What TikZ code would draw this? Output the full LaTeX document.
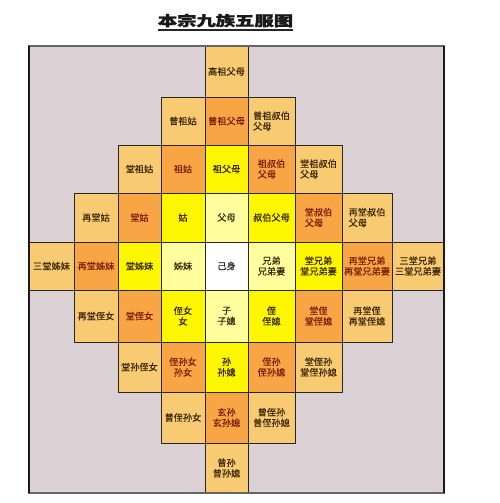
\documentclass[tikz,border=0pt]{standalone}
\usepackage{fontspec}
\newfontfamily\cjk[FakeBold=0.4]{Noto Sans CJK SC}
\newfontfamily\cjktitle[BoldFeatures={FakeBold=1.3}]{Noto Sans CJK SC}
\definecolor{bgc}{HTML}{DBD1D5}
\definecolor{loc}{HTML}{F8CA72}
\definecolor{orc}{HTML}{F7A545}
\definecolor{yec}{HTML}{FCF700}
\definecolor{lyc}{HTML}{FFFF9E}
\definecolor{txd}{HTML}{3A2608}
\definecolor{txr}{HTML}{7A1E08}
\def\colarr{{29,74,118,161,205,248,295,342,392,444}}
\def\rowarr{{46,97,145,193,242,290,342,392,443,493}}
\newcommand{\famcell}[6]{%
  \pgfmathsetmacro\xa{\colarr[#3]}\pgfmathsetmacro\xb{\colarr[#3+1]}%
  \pgfmathsetmacro\ya{\rowarr[#2]}\pgfmathsetmacro\yb{\rowarr[#2+1]}%
  \pgfmathsetmacro\cw{\xb-\xa}\pgfmathsetmacro\ch{\yb-\ya}%
  \pgfmathsetmacro\xm{(\xa+\xb)/2}\pgfmathsetmacro\ym{(\ya+\yb)/2}%
  \node[#4, align=#5, minimum width=\cw pt, minimum height=\ch pt] (#1) at (\xm,\ym) {#6};}
\tikzset{
  cellbase/.style={draw=black!85, line width=0.7pt, inner sep=0pt, outer sep=0pt,
    font=\cjk\fontsize{9.2}{10.6}\selectfont, text=txd},
  lo/.style={cellbase, fill=loc},
  or/.style={cellbase, fill=orc, text=txr},
  ye/.style={cellbase, fill=yec},
  ly/.style={cellbase, fill=lyc},
  wh/.style={cellbase, fill=white, text=black!85},
}
\begin{document}
\begin{tikzpicture}[x=1pt,y=-1pt]
\useasboundingbox (0,0) rectangle (500,503);
\fill[white] (0,0) rectangle (500,503);
\node[font=\cjktitle\bfseries\fontsize{14}{14}\selectfont, inner sep=0pt, text=black!90] (title) at (225.5,20.5) {\scalebox{1.38}[1]{本宗九族五服图}};
\draw[line width=1.6pt, black!85] ([yshift=-2.5pt]title.south west) -- ([yshift=-2.5pt]title.south east);
\fill[bgc] (29,46) rectangle (444,493);
% row 0
\famcell{r0c4}{0}{4}{lo}{center}{高祖父母}
% row 1
\famcell{r1c3}{1}{3}{lo}{center}{曾祖姑}
\famcell{r1c4}{1}{4}{or}{center}{曾祖父母}
\famcell{r1c5}{1}{5}{lo}{left}{曾祖叔伯\\父母}
% row 2
\famcell{r2c2}{2}{2}{lo}{center}{堂祖姑}
\famcell{r2c3}{2}{3}{or}{center}{祖姑}
\famcell{r2c4}{2}{4}{ye}{center}{祖父母}
\famcell{r2c5}{2}{5}{or}{left}{祖叔伯\\父母}
\famcell{r2c6}{2}{6}{lo}{left}{堂祖叔伯\\父母}
% row 3
\famcell{r3c1}{3}{1}{lo}{center}{再堂姑}
\famcell{r3c2}{3}{2}{or}{center}{堂姑}
\famcell{r3c3}{3}{3}{ye}{center}{姑}
\famcell{r3c4}{3}{4}{ly}{center}{父母}
\famcell{r3c5}{3}{5}{ye}{center}{叔伯父母}
\famcell{r3c6}{3}{6}{or}{left}{堂叔伯\\父母}
\famcell{r3c7}{3}{7}{lo}{left}{再堂叔伯\\父母}
% row 4
\famcell{r4c0}{4}{0}{lo}{center}{三堂姊妹}
\famcell{r4c1}{4}{1}{or}{center}{再堂姊妹}
\famcell{r4c2}{4}{2}{ye}{center}{堂姊妹}
\famcell{r4c3}{4}{3}{ly}{center}{姊妹}
\famcell{r4c4}{4}{4}{wh}{center}{己身}
\famcell{r4c5}{4}{5}{ly}{center}{兄弟\\兄弟妻}
\famcell{r4c6}{4}{6}{ye}{center}{堂兄弟\\堂兄弟妻}
\famcell{r4c7}{4}{7}{or}{center}{再堂兄弟\\再堂兄弟妻}
\famcell{r4c8}{4}{8}{lo}{center}{三堂兄弟\\三堂兄弟妻}
% row 5
\famcell{r5c1}{5}{1}{lo}{center}{再堂侄女}
\famcell{r5c2}{5}{2}{or}{center}{堂侄女}
\famcell{r5c3}{5}{3}{ye}{center}{侄女\\女}
\famcell{r5c4}{5}{4}{ly}{center}{子\\子媳}
\famcell{r5c5}{5}{5}{ye}{center}{侄\\侄媳}
\famcell{r5c6}{5}{6}{or}{center}{堂侄\\堂侄媳}
\famcell{r5c7}{5}{7}{lo}{center}{再堂侄\\再堂侄媳}
% row 6
\famcell{r6c2}{6}{2}{lo}{center}{堂孙侄女}
\famcell{r6c3}{6}{3}{or}{center}{侄孙女\\孙女}
\famcell{r6c4}{6}{4}{ye}{center}{孙\\孙媳}
\famcell{r6c5}{6}{5}{or}{center}{侄孙\\侄孙媳}
\famcell{r6c6}{6}{6}{lo}{center}{堂侄孙\\堂侄孙媳}
% row 7
\famcell{r7c3}{7}{3}{lo}{center}{曾侄孙女}
\famcell{r7c4}{7}{4}{or}{center}{玄孙\\玄孙媳}
\famcell{r7c5}{7}{5}{lo}{center}{曾侄孙\\曾侄孙媳}
% row 8
\famcell{r8c4}{8}{4}{lo}{center}{曾孙\\曾孙媳}
% frame
\draw[black!60, line width=2.4pt] (28,46) -- (445,46);
\draw[black!60, line width=2.4pt] (28,493) -- (445,493);
\draw[black!90, line width=1.2pt] (29,46) -- (29,493);
\draw[black!90, line width=1.2pt] (444,46) -- (444,493);
\end{tikzpicture}
\end{document}
